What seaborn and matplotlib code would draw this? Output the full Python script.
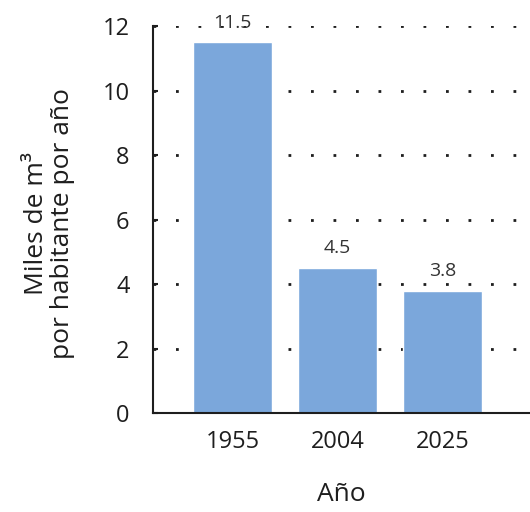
import matplotlib
matplotlib.use("Agg")
import matplotlib.pyplot as plt
import seaborn as sns
import pandas as pd

# Water availability per inhabitant
years = ["1955", "2004", "2025"]
values = [11.5, 4.5, 3.8]
value_labels = ["11.5", "4.5", "3.8"]
y_ticks = [0, 2, 4, 6, 8, 10, 12]

df = pd.DataFrame({"Año": years, "valor": values})

sns.set_theme(style="white")
plt.rcParams["font.family"] = ["Open Sans", "DejaVu Sans"]
plt.rcParams["lines.scale_dashes"] = False

text_color = "#1e1e1e"
bar_color = "#7ba7db"

fig = plt.figure(figsize=(5.30, 5.12), dpi=100)
ax = fig.add_axes([0.289, 0.193, 0.711, 0.756])

# dotted horizontal guides behind the bars
for t in y_ticks[1:]:
    ax.axhline(t, color="#1e1e1e", linewidth=2.0,
               linestyle=(0, (2.0, 14.2)), zorder=0)

sns.barplot(data=df, x="Año", y="valor", color=bar_color, width=0.75,
            saturation=1, ax=ax, zorder=2)

for i, (v, lab) in enumerate(zip(values, value_labels)):
    ax.annotate(lab, (i, v), xytext=(0, 10.5), textcoords="offset points",
                ha="center", va="baseline", fontsize=14,
                color="#333333", zorder=3)

ax.set_xlim(-0.756, 2.83)
ax.set_ylim(0, 12)
ax.set_yticks(y_ticks)
ax.set_yticklabels([str(t) for t in y_ticks])
# short inward stubs at the same positions as the outward ticks
ax.set_yticks(y_ticks, minor=True)
ax.yaxis.remove_overlapping_locs = False

for side in ["top", "right"]:
    ax.spines[side].set_visible(False)
for side in ["left", "bottom"]:
    ax.spines[side].set_color(text_color)
    ax.spines[side].set_linewidth(1.5)

ax.tick_params(axis="y", which="major", direction="out", length=9, width=1.5,
               color=text_color, labelsize=17, labelcolor=text_color, pad=8)
ax.tick_params(axis="y", which="minor", direction="in", length=3.5, width=1.5,
               color=text_color, left=True, labelleft=False)
ax.tick_params(axis="x", length=0, labelsize=17, labelcolor=text_color, pad=12)

ax.set_xlabel("Año", fontsize=19, color=text_color)
ax.xaxis.set_label_coords(0.5, -0.178)
ax.set_ylabel("Miles de m³\npor habitante por año", fontsize=19,
              color=text_color, linespacing=1.05)
ax.yaxis.set_label_coords(-0.207, 0.49)
ax.grid(False)

fig.savefig("out.png", dpi=100)
